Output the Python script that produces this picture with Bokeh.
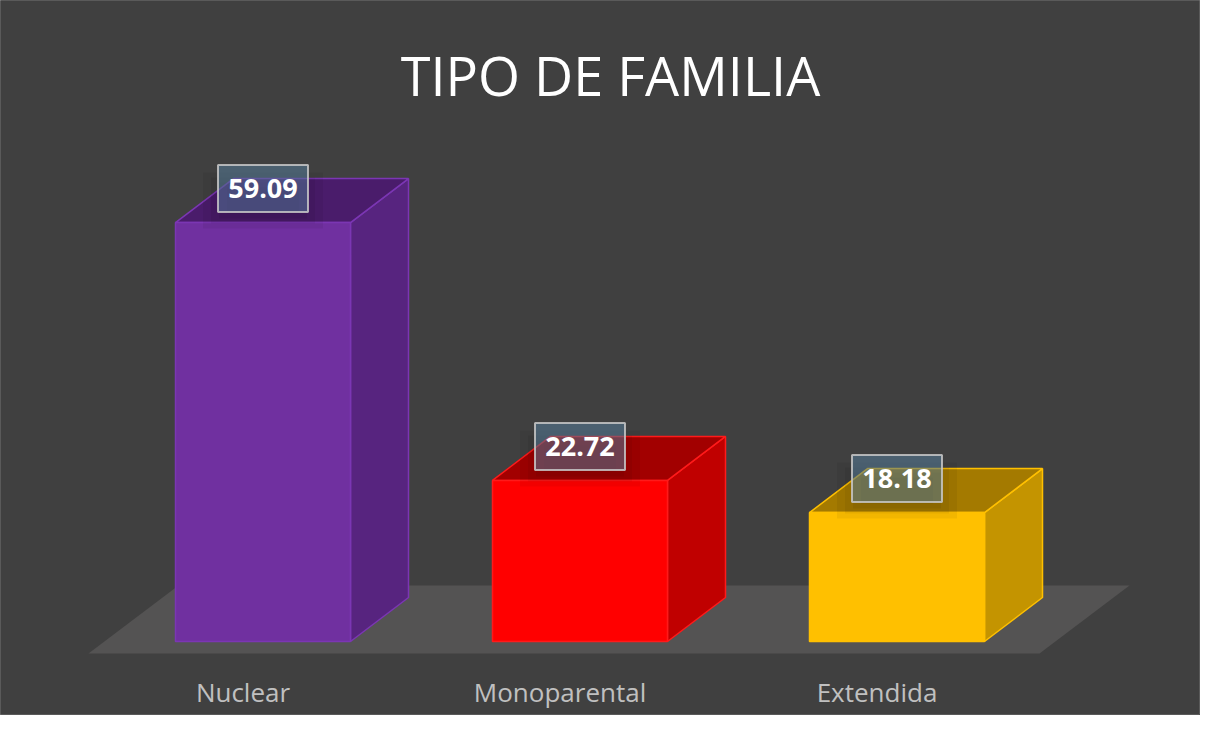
from bokeh.plotting import figure
from bokeh.models import Range1d, Label, ColumnDataSource
from bokeh.core.properties import value
from bokeh.embed import file_html
from bokeh.resources import INLINE

# ---- data ----
categories = ["Nuclear", "Monoparental", "Extendida"]
values = [59.09, 22.72, 18.18]
labels = ["59.09", "22.72", "18.18"]
front_colors = ["#7030A0", "#FF0000", "#FFC000"]
side_colors = ["#57247F", "#C00000", "#C49400"]
top_colors = ["#4A1C6B", "#A20000", "#A47A00"]
edge_colors = ["#7B36B3", "#FF1A1A", "#FFC000"]
title_text = "TIPO DE FAMILIA"

# ---- layout parameters ----
W, H = 1200, 715
PX_X = 317.0     # px per category step
PX_Y = 7.09      # px per value unit
x0 = -262.5 / PX_X
y_bottom = -(H - 641) / PX_Y
bar_w = 175 / PX_X
dx = 58 / PX_X
dy = 44 / PX_Y

p = figure(width=W, height=H, output_backend="svg", toolbar_location=None,
           x_range=Range1d(x0, x0 + W / PX_X),
           y_range=Range1d(y_bottom, y_bottom + H / PX_Y),
           min_border=0, background_fill_color="#404040",
           border_fill_color="#404040")
p.axis.visible = False
p.grid.visible = False
p.outline_line_color = "#5a5a5a"

n = len(categories)
xs = list(range(n))

# floor
floor_front = -12 / PX_Y
floor_back = 56 / PX_Y
fdx = 90 / PX_X
fl = xs[0] - bar_w / 2 - 87 / PX_X
fr = xs[-1] + bar_w / 2 + 55 / PX_X
p.patch([fl, fr, fr + fdx, fl + fdx], [floor_front, floor_front, floor_back, floor_back],
        fill_color="#545353", line_color=None)

# bars
for i, (c, v) in enumerate(zip(xs, values)):
    xl, xr = c - bar_w / 2, c + bar_w / 2
    p.patch([xr, xr + dx, xr + dx, xr], [0, dy, v + dy, v],
            fill_color=side_colors[i], line_color=edge_colors[i], line_width=1.5)
    p.patch([xl, xr, xr + dx, xl + dx], [v, v, v + dy, v + dy],
            fill_color=top_colors[i], line_color=edge_colors[i], line_width=1.5)
    p.patch([xl, xr, xr, xl], [0, 0, v, v],
            fill_color=front_colors[i], line_color=edge_colors[i], line_width=1.5)

# value labels
lab_off = 34 / PX_Y
src = ColumnDataSource(dict(x=xs, y=[v + lab_off for v in values],
                            ys=[v + lab_off - 12 / PX_Y for v in values], t=labels))
# soft shadow beneath label boxes (layered)
for sw, sh in [(120, 56), (104, 46), (88, 36), (72, 26)]:
    p.rect("x", "ys", width=sw, height=sh, width_units="screen", height_units="screen",
           source=src, fill_color="black", fill_alpha=0.05, line_color=None)
p.rect("x", "y", width=90, height=47, width_units="screen", height_units="screen",
       source=src, fill_color="#5680A0", fill_alpha=0.5,
       line_color="#c8c8c8", line_alpha=0.85, line_width=2)
p.text("x", "y", text="t", source=src, text_align="center", text_baseline="middle",
       text_color="white", text_font=value("Open Sans"), text_font_style="bold",
       text_font_size="27px")

# category labels
cat_y = -(691 - 641) / PX_Y
csrc = ColumnDataSource(dict(x=[c - 20 / PX_X for c in xs], y=[cat_y] * n, t=categories))
p.text("x", "y", text="t", source=csrc, text_align="center", text_baseline="middle",
       text_color="#c0c0c0", text_font=value("Open Sans"), text_font_size="26px")

# title
p.add_layout(Label(x=610, y=H - 74, x_units="screen", y_units="screen",
                   text=title_text, text_align="center", text_baseline="middle",
                   text_color="white", text_font="Open Sans", text_font_size="54px"))

open("out.html", "w").write(file_html(p, INLINE))
